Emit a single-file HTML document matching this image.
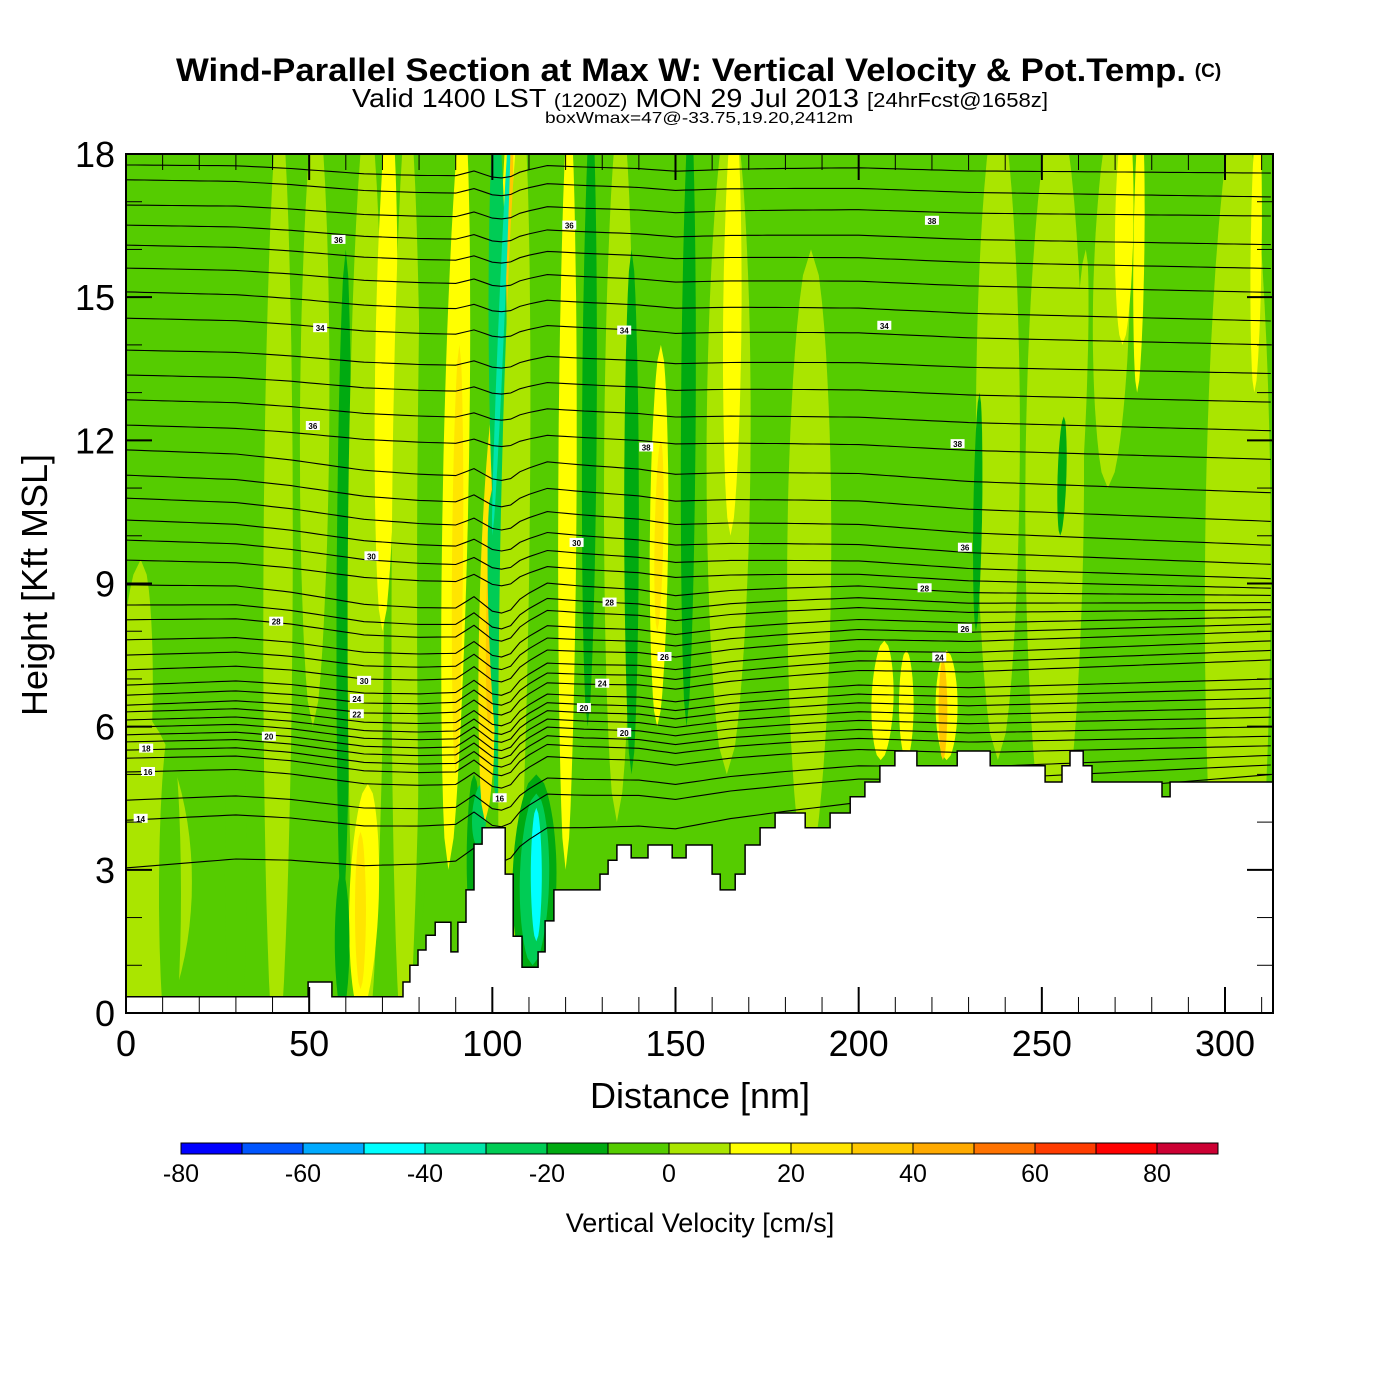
<!DOCTYPE html>
<html><head><meta charset="utf-8"><style>
html,body{margin:0;padding:0;background:#fff;}
svg{display:block;font-family:"Liberation Sans",Arial,sans-serif;}
</style></head><body>
<svg id="chart" width="1400" height="1400" viewBox="0 0 1400 1400" xmlns="http://www.w3.org/2000/svg">
<text x="176" y="81" font-size="32" font-weight="bold" textLength="1010" lengthAdjust="spacingAndGlyphs">Wind-Parallel Section at Max W: Vertical Velocity &amp; Pot.Temp.</text>
<text x="1208" y="77" font-size="19" font-weight="bold" text-anchor="middle">(C)</text>
<text x="352" y="107" font-size="26" textLength="696" lengthAdjust="spacingAndGlyphs">Valid 1400 LST <tspan font-size="19">(1200Z)</tspan> MON 29 Jul 2013 <tspan font-size="20">[24hrFcst@1658z]</tspan></text>
<text x="545" y="123" font-size="16" textLength="308" lengthAdjust="spacingAndGlyphs">boxWmax=47@-33.75,19.20,2412m</text>
<defs><clipPath id="plotclip"><rect x="126" y="154" width="1147" height="859"/></clipPath></defs>
<g id="plot" clip-path="url(#plotclip)">
<rect x="126" y="154" width="1147" height="859" fill="#55cc00"/>
<g id="fills"></g><g id="isen"></g><g id="terrain"></g><g id="labels"></g>
</g>
<rect x="126" y="154" width="1147" height="859" fill="none" stroke="#000" stroke-width="2"/>
<g id="axes"></g>
<text x="700" y="1108" font-size="36" text-anchor="middle">Distance [nm]</text>
<text transform="translate(47,585) rotate(-90)" font-size="36" text-anchor="middle">Height [Kft MSL]</text>
<g id="cbar"></g>
<text x="700" y="1232" font-size="27" text-anchor="middle">Vertical Velocity [cm/s]</text>
</svg>
<script>
// ---- data ----
const cbLevels=[-80,-70,-60,-50,-40,-30,-20,-10,0,10,20,30,40,50,60,70,80,90];
const cbColors=["#0000ff","#0055ff","#00aaff","#00ffff","#00e5aa","#00cc55","#00aa11","#55cc00","#aae500","#ffff00","#ffe500","#ffc800","#ffaa00","#ff7300","#ff3c00","#ff0000","#cc0033"];
const cbTicks=[-80,-60,-40,-20,0,20,40,60,80];
const xTicks=[0,50,100,150,200,250,300];
const yTicks=[0,3,6,9,12,15,18];
// stripes: bottom x (nm), top x (nm), half width (nm), bottom kft, top kft, w (cm/s)
const stripeXb=[0,12,30,0,41,51,59,65,70,64,59,64,76,81,88,90,95,96,98,99,104,104,102,105,101,100,104,111,111,112,120,126,134,138,145,145,153,164,165,186,206,213,224,223,238,232,253,255,268,276,303,308,272,258];
const stripeXt=[0,12,30,4,42,52,60,66,72,66,59,64,77,82,92,91,95,97,101,101,105,105,101,100,106,105,108,112,112,112,121,127,135,138,146,146,154,165,166,187,207,213,224,223,238,233,254,256,270,277,304,309,273,262];
const stripeHw=[18,3,3,5,4,4,2,5,3,4,2,1.5,4,2,3.5,1.5,2,2,3,1.5,2.5,1.2,2.5,3,2,0.8,4,6,4,1.5,2.5,2,4,2,2.5,1.2,2,6,2.5,6,3,2,3,1.2,6,1.2,8,1.2,5,1.5,9,1.5,2.5,2];
const stripeY0=[-1,-1,-1,2,-1,6,2,-1,8,0,0,0.5,-1,2,3,5,1.4,3.5,4,6,11,13,9,3.5,4.5,10,-1,0.5,1,1.5,3,6,4,5,6,8,6,5,10,3,5.3,5.3,5.3,5.3,5.3,8,3,10,11,13,-1,13,14,9];
const stripeY1=[6.5,6,7,9.5,19,19,16,19,19,4.8,3,3.8,19,19,19,14,5,4.8,13,12,19,19,19,11,10,19,19,5,4.6,4.3,19,19,19,16,14,12,19,19,19,16,7.8,7.6,7.6,7.4,19,13,19,12.5,19,19,19,19,19,16];
const stripeW=[5,-5,-5,5,5,5,-15,5,15,15,-15,25,5,-5,15,25,-15,-25,25,35,15,30,-25,-25,-25,-35,5,-15,-25,-45,15,-15,5,-15,15,25,-15,5,15,5,15,15,15,35,5,-15,5,-15,5,15,5,15,15,5];
// terrain step profile
const terrX=[0,49.7,56.2,75.6,77.5,79.7,81.9,84.4,88.7,90.6,92.8,95,97.2,103.5,105.7,108.1,112.5,114.4,116.8,129.4,131.6,134,137.9,142.5,149.1,152.9,160,162.2,166.3,169,173.1,177.2,185.4,192.2,197.7,201.7,205.8,209.9,215.9,226.9,235.9,250.9,255.5,257.7,261.3,263.7,282.8,285];
const terrH=[0.34,0.65,0.34,0.65,1.0,1.32,1.63,1.9,1.28,1.9,2.58,3.54,3.88,2.91,1.61,0.96,1.28,1.93,2.58,2.91,3.2,3.52,3.25,3.52,3.25,3.52,2.91,2.58,2.91,3.52,3.88,4.19,3.88,4.19,4.53,4.84,5.18,5.49,5.18,5.49,5.18,4.84,5.18,5.49,5.18,4.84,4.53,4.84];
// isentropes: height at left edge and right edge (kft)
const isenLeft=[17.77,17.46,16.93,16.51,16.09,15.61,15.11,14.56,13.89,13.37,12.85,12.32,11.8,11.27,10.79,10.33,9.91,9.49,8.97,8.55,8.24,7.82,7.5,7.19,6.87,6.66,6.45,6.31,6.14,5.99,5.83,5.68,5.51,5.34,5.05,4.46,4.04,3.04];
const isenRight=[17.6,17.1,16.7,16.1,15.6,15.1,14.5,14.0,13.4,12.8,12.2,11.6,10.9,10.3,9.8,9.4,9.1,8.9,8.75,8.6,8.45,8.3,8.15,8.0,7.8,7.6,7.4,7.0,6.8,6.6,6.4,6.2,6.0,5.8,5.6,5.4,5.2,5.0];
// isentrope displacement profile (kft, negative = downward)
const bumpX=[0,30,45,55,65,80,90,95,100,104,108,115,125,140,150,165,180,200,215,230,260,313];
const bumpD=[0,0,-0.1,-0.2,-0.3,-0.35,-0.35,-0.15,-0.4,-0.45,-0.15,0.1,0.05,0,-0.1,0,0.05,0.1,0.05,0,0,0];
const labelText=["36","34","36","30","28","30","24","22","20","18","16","14","36","34","38","30","28","26","24","20","20","16","38","34","38","36","28","26","24"];
const labelNm=[58,53,51,67,41,65,63,63,39,5.5,6,4,121,136,142,123,132,147,130,125,136,102,220,207,227,229,218,229,222];
const labelKft=[16.2,14.35,12.3,9.57,8.2,6.96,6.58,6.26,5.79,5.54,5.05,4.07,16.5,14.3,11.85,9.85,8.6,7.46,6.9,6.39,5.87,4.5,16.6,14.4,11.92,9.75,8.9,8.05,7.45];
// ---- axes ----
const X0=126,X1=1273,XMAX=313.1,Y0=1013,Y1=154,YMAX=18;
const sx=v=>X0+v*(X1-X0)/XMAX;
const sy=v=>Y0-v*(Y0-Y1)/YMAX;
const NS="http://www.w3.org/2000/svg";
function mk(tag,attrs,parent){const e=document.createElementNS(NS,tag);for(const k in attrs)e.setAttribute(k,attrs[k]);parent.appendChild(e);return e;}
function colorFor(w){for(let i=0;i<cbColors.length;i++){if(w>=cbLevels[i]&&w<cbLevels[i+1])return cbColors[i];}return cbColors[cbColors.length-1];}
// stripes
const fills=document.getElementById('fills');
for(let i=0;i<stripeW.length;i++){
  const pts=[],N=24;
  const y0=stripeY0[i],y1=stripeY1[i];
  for(let k=0;k<=N;k++){const t=k/N;const h=stripeHw[i]*Math.pow(Math.sin(Math.PI*t),0.5);const xc=stripeXb[i]+(stripeXt[i]-stripeXb[i])*t;pts.push([sx(xc+h),sy(y0+(y1-y0)*t)]);}
  for(let k=N;k>=0;k--){const t=k/N;const h=stripeHw[i]*Math.pow(Math.sin(Math.PI*t),0.5);const xc=stripeXb[i]+(stripeXt[i]-stripeXb[i])*t;pts.push([sx(xc-h),sy(y0+(y1-y0)*t)]);}
  const p=mk('polygon',{points:pts.map(q=>q[0].toFixed(1)+','+q[1].toFixed(1)).join(' '),fill:colorFor(stripeW[i])},fills);
  
  
}
// isentropes
function bump(x){for(let j=0;j<bumpX.length-1;j++){if(x>=bumpX[j]&&x<=bumpX[j+1]){const t=(x-bumpX[j])/(bumpX[j+1]-bumpX[j]);return bumpD[j]+(bumpD[j+1]-bumpD[j])*t;}}return 0;}
const isen=document.getElementById('isen');
for(let i=0;i<isenLeft.length;i++){
  const lv=isenLeft[i];const amp=lv>12?0.5:(lv>9?0.8:1.2);
  let d='';
  for(let x=0;x<=XMAX;x+=2.5){const h=isenLeft[i]+(isenRight[i]-isenLeft[i])*x/XMAX+bump(x)*amp;d+=(x===0?'M':'L')+sx(x).toFixed(1)+','+sy(h).toFixed(1);}
  const p=mk('path',{d:d,fill:'none',stroke:'#000','stroke-width':1.1},isen);
  
  
}
// terrain
const terr=document.getElementById('terrain');
let td='M'+sx(0)+','+(Y0+5);
for(let i=0;i<terrX.length;i++){const xe=i+1<terrX.length?terrX[i+1]:XMAX+2;td+=' L'+sx(terrX[i]).toFixed(1)+','+sy(terrH[i]).toFixed(1)+' L'+sx(xe).toFixed(1)+','+sy(terrH[i]).toFixed(1);}
td+=' L'+(X1+5)+','+(Y0+5)+'Z';
const tp=mk('path',{d:td,fill:'#fff',stroke:'#000','stroke-width':1.5},terr);


// contour labels
const lab=document.getElementById('labels');
for(let i=0;i<labelText.length;i++){
  const g=mk('g',{},lab);
  
  
  mk('rect',{x:sx(labelNm[i])-7,y:sy(labelKft[i])-5,width:14,height:9,fill:'#fff'},g);
  const t=mk('text',{x:sx(labelNm[i]),y:sy(labelKft[i])+3,'font-size':8,'text-anchor':'middle','font-weight':'bold'},g);t.textContent=labelText[i];
}
// ticks
const axes=document.getElementById('axes');
for(let v=0;v<=310;v+=10){const major=v%50===0;const L=major?26:16;
  const a=mk('line',{x1:sx(v),x2:sx(v),y1:Y0,y2:Y0-L,stroke:'#000','stroke-width':major?2:1},axes);
  const b=mk('line',{x1:sx(v),x2:sx(v),y1:Y1,y2:Y1+L,stroke:'#000','stroke-width':major?2:1},axes);}
for(let v=0;v<=18;v+=1){const major=v%3===0;const L=major?26:16;
  const a=mk('line',{x1:X0,x2:X0+L,y1:sy(v),y2:sy(v),stroke:'#000','stroke-width':major?2:1},axes);
  const b=mk('line',{x1:X1,x2:X1-L,y1:sy(v),y2:sy(v),stroke:'#000','stroke-width':major?2:1},axes);}
xTicks.forEach(v=>{const t=mk('text',{x:sx(v),y:1056,'font-size':36,'text-anchor':'middle'},axes);t.textContent=v;});
yTicks.forEach(v=>{const t=mk('text',{x:115,y:sy(v)+13,'font-size':36,'text-anchor':'end'},axes);t.textContent=v;});
// colorbar
const cb=document.getElementById('cbar');
const cx=v=>181+(v+80)*(1218-181)/170;
for(let i=0;i<cbColors.length;i++){const r=mk('rect',{x:cx(cbLevels[i]),y:1143,width:cx(cbLevels[i+1])-cx(cbLevels[i]),height:11,fill:cbColors[i],stroke:'#000','stroke-width':1},cb);}
cbTicks.forEach(v=>{const t=mk('text',{x:cx(v),y:1182,'font-size':25,'text-anchor':'middle'},cb);t.textContent=v;});
</script>
</body></html>
